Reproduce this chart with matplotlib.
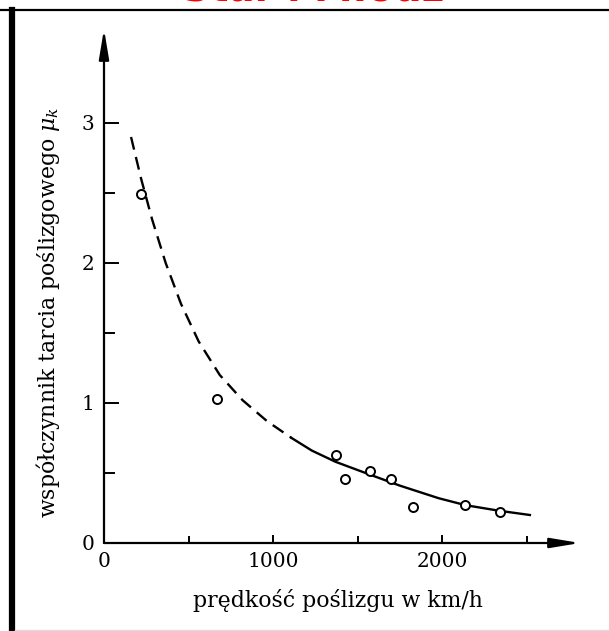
import numpy as np
import matplotlib
matplotlib.use('Agg')
import matplotlib.pyplot as plt
from matplotlib.lines import Line2D

# pomiary (punkty)
speed_points = [217, 671, 1371, 1424, 1574, 1700, 1828, 2134, 2343]
mu_points = [2.49, 1.03, 0.63, 0.455, 0.514, 0.455, 0.26, 0.27, 0.224]

# krzywa - czesc przerywana (ekstrapolacja)
speed_dashed = [160, 220, 285, 365, 455, 560, 685, 820, 965, 1110]
mu_dashed = [2.90, 2.60, 2.31, 2.00, 1.71, 1.44, 1.20, 1.02, 0.87, 0.75]

# krzywa - czesc ciagla
speed_solid = [1110, 1230, 1370, 1570, 1750, 1980, 2140, 2340, 2520]
mu_solid = [0.75, 0.66, 0.58, 0.49, 0.41, 0.32, 0.27, 0.23, 0.20]

x_major = [0, 1000, 2000]
x_minor = [500, 1500, 2500]
y_major = [0, 1, 2, 3]
y_minor = [0.5, 1.5, 2.5]

x_label = 'prędkość poślizgu w km/h'
y_label = r'współczynnik tarcia poślizgowego $\mu_k$'
banner = 'Star i Młodz'

W, H = 609, 631


def main():
    plt.rcParams['font.family'] = 'DejaVu Serif'
    plt.rcParams['mathtext.fontset'] = 'dejavuserif'

    fig = plt.figure(figsize=(W / 100, H / 100), dpi=100)
    # os y przy x=104 px, os x przy y=543 px, strzalki do 580 px i 29 px
    left, right, top, bottom = 104, 580, 29, 543
    ax = fig.add_axes([left / W, 1 - bottom / H, (right - left) / W, (bottom - top) / H])

    ax.set_xlim(0, (right - left) / 169 * 1000)
    ax.set_ylim(0, (bottom - top) / 140)

    ax.plot(speed_dashed, mu_dashed, color='black', lw=1.7, dashes=(5.5, 3.2))
    ax.plot(speed_solid, mu_solid, color='black', lw=1.7)
    ax.plot(speed_points, mu_points, 'o', ms=6.5, mfc='white', mec='black', mew=1.4)

    for s in ax.spines.values():
        s.set_visible(False)

    arrow = dict(arrowstyle='-|>,head_length=0.9,head_width=0.15', lw=1.6,
                 color='black', fc='black', shrinkA=0, shrinkB=0, mutation_scale=20)
    ax.annotate('', xy=(1, 0), xytext=(0, 0), xycoords='axes fraction', arrowprops=arrow)
    ax.annotate('', xy=(0, 1), xytext=(0, 0), xycoords='axes fraction', arrowprops=arrow)

    ax.set_xticks(x_major)
    ax.set_xticks(x_minor, minor=True)
    ax.set_yticks(y_major)
    ax.set_yticks(y_minor, minor=True)
    ax.set_xticklabels([str(v) for v in x_major])
    ax.set_yticklabels([str(v) for v in y_major])

    ax.tick_params(axis='x', which='major', direction='in', length=6, width=1.4,
                   pad=6.5, labelsize=14.5)
    ax.tick_params(axis='x', which='minor', direction='in', length=5, width=1.4)
    ax.tick_params(axis='y', which='major', direction='in', length=11, width=1.4,
                   pad=7, labelsize=14.5)
    ax.tick_params(axis='y', which='minor', direction='in', length=8, width=1.4)

    fig.text(338 / W, 1 - 600 / H, x_label, ha='center', va='center', fontsize=15.8)
    fig.text(48 / W, 1 - 312 / H, y_label, ha='center', va='center',
             rotation=90, fontsize=15.8)

    # ramka skanu
    fig.add_artist(Line2D([0, 1], [1 - 9.5 / H, 1 - 9.5 / H], color='black', lw=1.6))
    fig.add_artist(Line2D([12 / W, 12 / W], [0, 1 - 9.5 / H], color='black', lw=4.5))
    fig.add_artist(Line2D([15 / W, 1], [1.5 / H, 1.5 / H], color='#dddddd', lw=1))

    # napis przyciety u gory (jak na skanie)
    fig.text(313 / W, 1 - 0.5 / H, banner, ha='center', va='baseline', color='red',
             fontsize=28, fontweight='bold', family='DejaVu Sans')

    fig.savefig('out.png', dpi=100)


if __name__ == '__main__':
    main()
